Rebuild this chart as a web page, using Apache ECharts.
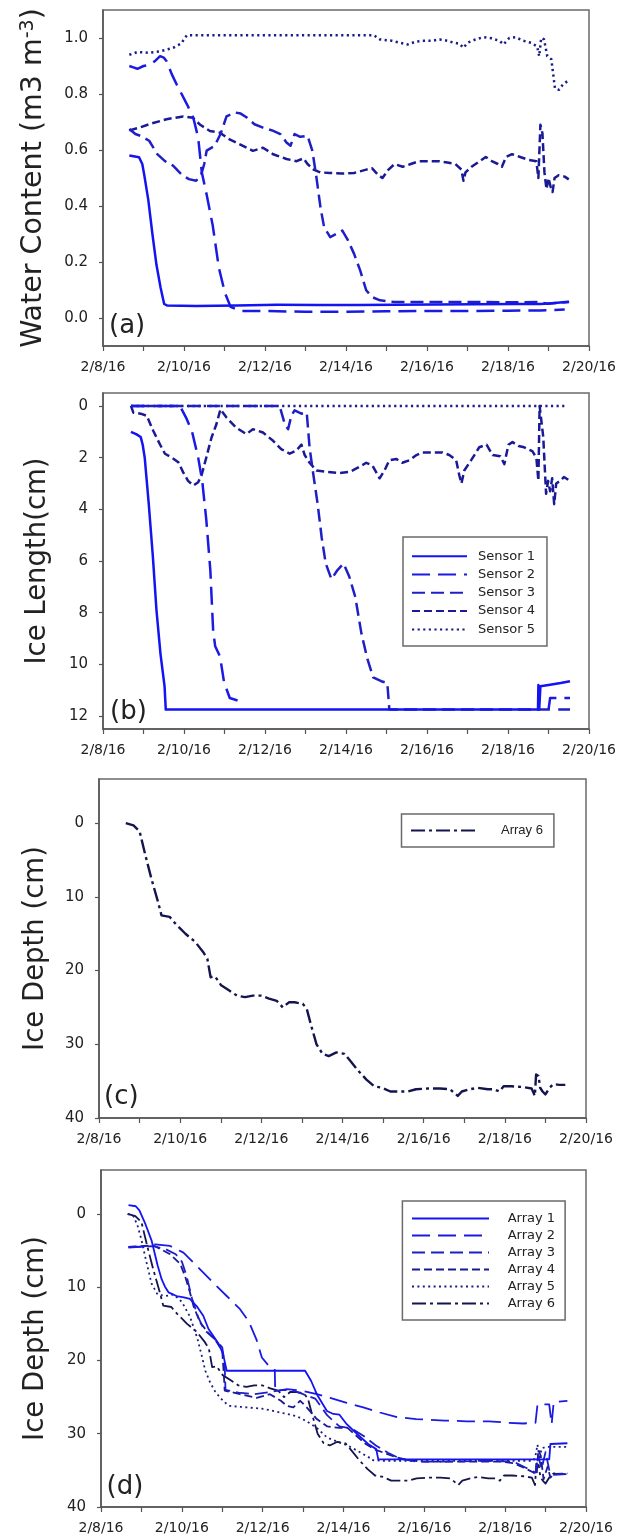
<!DOCTYPE html>
<html>
<head>
<meta charset="utf-8">
<script src="https://cdn.jsdelivr.net/npm/echarts@6/dist/echarts.min.js"></script>
<style>
html,body{margin:0;padding:0;background:#fff;}
#chart{width:619px;height:1536px;}
</style>
</head>
<body>
<div id="chart"></div>
<script>
// ---------- tick labels ----------
const xTickDays = [8, 10, 12, 14, 16, 18, 20];
const xTickLabels = ['2/8/16', '2/10/16', '2/12/16', '2/14/16', '2/16/16', '2/18/16', '2/20/16'];
const wcTicks = [0, 0.2, 0.4, 0.6, 0.8, 1.0];
const ilTicks = [0, 2, 4, 6, 8, 10, 12];
const depthTicks = [0, 10, 20, 30, 40];
const sensorNames = ['Sensor 1', 'Sensor 2', 'Sensor 3', 'Sensor 4', 'Sensor 5'];
const arrayNames = ['Array 1', 'Array 2', 'Array 3', 'Array 4', 'Array 5', 'Array 6'];

// ---------- (a) water content, [day of Feb 2016, m3 m-3] ----------
const wcSensor1 = [[8.65,0.58],[8.89,0.574],[8.97,0.55],[9.02,0.51],[9.12,0.42],[9.22,0.30],[9.32,0.19],[9.42,0.11],[9.51,0.05],[9.58,0.045],[10.3,0.043],[11.3,0.045],[12.3,0.047],[13.3,0.046],[14.3,0.046],[15.2,0.047],[16.2,0.048],[17.2,0.049],[18.2,0.05],[18.8,0.05],[19.0,0.052],[19.5,0.058]];
const wcSensor2 = [[8.65,0.90],[8.75,0.895],[8.85,0.89],[9.0,0.9],[9.16,0.905],[9.3,0.92],[9.41,0.935],[9.5,0.93],[9.57,0.917],[9.7,0.87],[9.82,0.834],[10.07,0.764],[10.23,0.715],[10.35,0.644],[10.44,0.52],[10.56,0.44],[10.71,0.33],[10.86,0.18],[11.01,0.09],[11.15,0.04],[11.4,0.025],[12,0.025],[13,0.022],[14,0.022],[15,0.024],[16,0.025],[17,0.025],[18,0.026],[18.8,0.027],[19.0,0.028],[19.4,0.03]];
const wcSensor3 = [[8.65,0.675],[8.8,0.657],[8.94,0.65],[9.14,0.633],[9.34,0.585],[9.53,0.56],[9.73,0.544],[9.93,0.514],[10.12,0.496],[10.3,0.49],[10.42,0.51],[10.5,0.55],[10.56,0.598],[10.76,0.615],[10.91,0.66],[11.05,0.72],[11.26,0.734],[11.4,0.73],[11.55,0.716],[11.74,0.692],[11.95,0.68],[12.19,0.669],[12.38,0.657],[12.53,0.627],[12.63,0.615],[12.73,0.657],[12.87,0.647],[13.05,0.651],[13.17,0.597],[13.27,0.502],[13.37,0.395],[13.46,0.324],[13.61,0.289],[13.76,0.3],[13.91,0.312],[14.05,0.277],[14.2,0.229],[14.35,0.17],[14.5,0.099],[14.64,0.075],[14.84,0.063],[15.2,0.057],[16.2,0.057],[17.2,0.057],[18.2,0.056],[18.77,0.057],[18.97,0.051],[19.51,0.057]];
const wcSensor4 = [[8.65,0.67],[8.9,0.68],[9.16,0.693],[9.57,0.71],[9.98,0.72],[10.22,0.715],[10.4,0.69],[10.64,0.668],[10.89,0.662],[11.1,0.64],[11.38,0.62],[11.7,0.597],[11.95,0.608],[12.2,0.585],[12.53,0.568],[12.78,0.56],[12.95,0.57],[13.05,0.55],[13.2,0.53],[13.37,0.52],[13.6,0.518],[13.9,0.516],[14.2,0.518],[14.5,0.53],[14.64,0.535],[14.8,0.51],[14.9,0.50],[15.05,0.53],[15.2,0.55],[15.4,0.54],[15.6,0.55],[15.8,0.56],[16.0,0.56],[16.3,0.56],[16.5,0.555],[16.7,0.55],[16.85,0.53],[16.9,0.49],[16.95,0.52],[17.1,0.54],[17.3,0.56],[17.45,0.575],[17.6,0.56],[17.75,0.55],[17.85,0.54],[17.95,0.575],[18.1,0.585],[18.3,0.575],[18.5,0.565],[18.7,0.56],[18.75,0.5],[18.8,0.69],[18.85,0.66],[18.9,0.52],[18.95,0.46],[19.0,0.5],[19.05,0.47],[19.1,0.45],[19.15,0.5],[19.25,0.51],[19.4,0.505],[19.5,0.495]];
const wcSensor5 = [[8.65,0.94],[8.85,0.95],[9.14,0.947],[9.43,0.953],[9.73,0.965],[9.93,0.98],[10.07,1.01],[14.69,1.01],[14.84,0.995],[15.13,0.99],[15.33,0.983],[15.53,0.977],[15.72,0.987],[15.92,0.99],[16.12,0.99],[16.31,0.995],[16.51,0.99],[16.66,0.983],[16.8,0.98],[16.9,0.965],[17.0,0.983],[17.2,0.995],[17.39,1.003],[17.59,0.999],[17.79,0.99],[17.89,0.977],[18.03,1.0],[18.18,1.003],[18.38,0.99],[18.57,0.983],[18.72,0.97],[18.77,0.935],[18.82,1.0],[18.89,0.995],[18.97,0.935],[19.07,0.924],[19.16,0.82],[19.26,0.815],[19.36,0.835],[19.51,0.85]];

// ---------- (b) ice length, [day, cm] ----------
const ilSensor1 = [[8.69,1.0],[8.83,1.1],[8.93,1.2],[8.98,1.5],[9.03,2.0],[9.13,3.8],[9.23,5.8],[9.32,7.9],[9.42,9.6],[9.52,10.85],[9.55,11.75],[18.74,11.75],[18.75,10.8],[18.77,11.75],[18.8,10.85],[19.0,10.8],[19.3,10.72],[19.53,10.65]];
const ilSensor2 = [[8.69,0],[9.9,0],[10.05,0.45],[10.2,1.0],[10.35,2.0],[10.45,2.9],[10.55,4.4],[10.65,6.35],[10.72,8.7],[10.77,9.3],[10.89,9.7],[10.99,10.7],[11.13,11.3],[11.33,11.4],[11.38,11.5],[11.4,'-'],[19.0,11.75],[19.04,11.3],[19.53,11.3]];
const ilSensor3 = [[8.69,0],[12.36,0],[12.49,0.71],[12.57,0.9],[12.65,0.38],[12.73,0.17],[12.9,0.3],[13.03,0.25],[13.1,1.6],[13.17,2.4],[13.3,3.8],[13.4,5.1],[13.5,6.1],[13.64,6.7],[13.79,6.35],[13.94,6.1],[14.08,6.6],[14.23,7.4],[14.38,8.8],[14.53,9.8],[14.67,10.5],[14.87,10.65],[15.02,10.72],[15.07,11.75],[19.04,11.75],[19.1,'-'],[19.24,11.75],[19.53,11.75]];
const ilSensor4 = [[8.69,0],[8.75,0.26],[8.93,0.3],[9.08,0.38],[9.24,0.96],[9.4,1.47],[9.53,1.85],[9.7,2.0],[9.86,2.18],[9.98,2.57],[10.1,2.9],[10.23,3.08],[10.35,2.95],[10.43,2.7],[10.55,2.0],[10.68,1.22],[10.8,0.71],[10.9,0.13],[11.05,0.45],[11.29,0.84],[11.54,1.09],[11.7,0.9],[11.95,1.03],[12.2,1.35],[12.4,1.67],[12.61,1.85],[12.77,1.73],[12.9,1.5],[12.98,1.9],[13.1,2.2],[13.27,2.5],[13.52,2.55],[13.84,2.6],[14.09,2.55],[14.28,2.4],[14.5,2.2],[14.65,2.3],[14.83,2.8],[14.95,2.5],[15.07,2.1],[15.24,2.05],[15.39,2.2],[15.57,2.1],[15.74,1.9],[15.89,1.8],[16.13,1.8],[16.38,1.8],[16.55,1.9],[16.72,2.1],[16.8,2.7],[16.85,3.0],[16.92,2.5],[17.09,2.1],[17.29,1.6],[17.47,1.5],[17.62,1.9],[17.81,1.95],[17.91,2.25],[18.01,1.5],[18.11,1.4],[18.26,1.55],[18.4,1.6],[18.6,1.75],[18.7,2.0],[18.75,2.9],[18.78,0],[18.82,0.05],[18.87,1.2],[18.94,3.4],[18.99,2.9],[19.04,3.3],[19.09,2.8],[19.14,3.8],[19.19,3.0],[19.29,2.9],[19.38,2.75],[19.53,2.9]];
const ilSensor5 = [[8.69,0],[19.4,0]];

// ---------- (c)/(d) ice depth, [day, cm] ----------
const depthArray1 = [[8.68,-1.2],[8.86,-1.05],[8.95,-0.5],[9.1,1.4],[9.25,3.6],[9.4,7.0],[9.5,8.9],[9.58,9.9],[9.67,10.7],[9.87,11.2],[10.05,11.4],[10.2,11.6],[10.37,12.6],[10.53,13.9],[10.66,15.7],[10.78,16.65],[10.9,17.6],[11.02,19.1],[11.11,21.4],[13.05,21.4],[13.2,22.8],[13.34,24.6],[13.59,26.9],[13.75,27.3],[13.9,27.4],[14.08,28.7],[14.33,30.0],[14.61,31.4],[14.81,32.1],[14.86,33.5],[19.09,33.5],[19.12,31.4],[19.54,31.3]];
const depthArray2 = [[8.68,4.6],[9.05,4.45],[9.34,4.14],[9.71,4.37],[10.04,5.28],[10.37,7.1],[10.78,9.4],[11.11,11.2],[11.44,13.0],[11.65,14.6],[11.85,17.2],[11.98,19.6],[12.22,21.2],[12.3,21.3],[12.31,24.2],[12.6,23.9],[12.95,24.1],[13.34,24.6],[13.67,25.1],[14.08,25.8],[14.49,26.4],[14.9,27.1],[15.3,27.7],[15.8,28.0],[16.5,28.2],[17.05,28.3],[17.6,28.3],[18.06,28.5],[18.45,28.6],[18.75,28.5],[18.8,26.0],[19.09,26.0],[19.15,28.7],[19.2,25.7],[19.54,25.5]];
const depthArray3 = [[8.68,4.5],[9.3,4.4],[9.6,4.8],[9.85,5.5],[10.0,6.5],[10.12,8.5],[10.25,11.5],[10.4,14.0],[10.55,15.8],[10.8,17.0],[11.0,18.2],[11.06,20.5],[11.08,24.0],[11.4,24.4],[11.8,24.6],[12.2,24.3],[12.5,24.0],[12.8,24.2],[13.0,24.6],[13.3,25.2],[13.6,27.5],[13.9,29.0],[14.2,29.3],[14.5,30.3],[14.8,31.6],[15.1,32.6],[15.4,33.4],[15.8,33.8],[16.5,33.8],[17.5,33.7],[18.2,33.8],[18.5,34.6],[18.75,35.3],[18.82,33.0],[18.9,34.8],[19.0,32.5],[19.1,35.2],[19.2,35.6],[19.54,35.5]];
const depthArray4 = [[8.68,4.5],[9.3,4.3],[9.71,5.5],[9.96,6.8],[10.08,8.5],[10.2,10.7],[10.29,12.6],[10.45,14.8],[10.65,16.2],[10.82,17.1],[11.0,18.7],[11.04,22],[11.06,24.1],[11.44,24.6],[11.85,25.1],[12.18,24.6],[12.45,25.5],[12.6,26.2],[12.76,26.4],[12.93,25.5],[13.09,26.4],[13.34,28.0],[13.6,29.0],[13.9,29.2],[14.1,29.2],[14.3,30.2],[14.55,31.4],[14.8,32.2],[15.0,32.6],[15.3,33.2],[15.6,33.6],[16.0,33.8],[17.0,33.8],[17.9,33.8],[18.2,34.0],[18.45,34.6],[18.7,35.3],[18.78,35.6],[18.82,32.2],[18.88,33],[18.95,36.2],[19.05,34.5],[19.12,36.0],[19.2,35.5],[19.54,35.4]];
const depthArray5 = [[8.66,0],[8.8,0.3],[8.9,1.5],[9.0,3.5],[9.1,6],[9.25,9.5],[9.4,11.0],[9.6,11.2],[9.8,11.0],[10.0,12],[10.2,14],[10.38,16.9],[10.5,19.5],[10.58,21.4],[10.7,23],[10.82,24.2],[10.95,25.1],[11.12,26.0],[11.19,26.2],[11.6,26.4],[12.02,26.6],[12.43,27.1],[12.84,27.6],[13.09,28.3],[13.34,29.2],[13.59,30.5],[13.9,31.2],[14.1,31.6],[14.4,32.5],[14.65,33.3],[14.7,33.6],[15,33.7],[16,33.7],[17,33.7],[18,33.7],[18.7,33.7],[18.75,33.0],[18.8,31.5],[18.85,33.5],[18.9,32.0],[19.0,31.8],[19.54,31.8]];
const depthArray6 = [[8.66,0],[8.85,0.3],[9.0,1.1],[9.15,4.5],[9.29,7.5],[9.44,10.4],[9.54,12.5],[9.74,12.7],[9.88,13.6],[10.13,15.0],[10.37,16.1],[10.57,17.5],[10.67,18.4],[10.75,20.9],[10.86,20.8],[11.01,22.0],[11.21,22.7],[11.4,23.4],[11.6,23.6],[11.79,23.4],[11.99,23.4],[12.19,23.8],[12.38,24.1],[12.53,25.0],[12.68,24.3],[12.82,24.3],[13.02,24.5],[13.12,25.2],[13.22,27.3],[13.36,30.0],[13.51,31.3],[13.66,31.6],[13.85,31.1],[14.05,31.3],[14.2,32.3],[14.39,33.6],[14.59,34.8],[14.78,35.7],[14.98,35.9],[15.18,36.4],[15.42,36.4],[15.62,36.4],[15.81,36.1],[16.11,36.0],[16.4,36.0],[16.65,36.1],[16.84,37.0],[16.94,36.4],[17.14,36.1],[17.33,35.9],[17.58,36.1],[17.73,36.1],[17.87,36.4],[17.97,35.7],[18.17,35.7],[18.46,35.8],[18.66,36.0],[18.74,37.0],[18.77,34.1],[18.83,34.3],[18.87,35.9],[18.93,36.4],[19.0,36.8],[19.1,35.9],[19.2,35.4],[19.34,35.5],[19.49,35.5]];

// ---------- styles ----------
const FONT = 'DejaVu Sans';
const TXT = '#222';
const AX = '#555';
const sensorStyle = [
  {color:'#1414f2', type:'solid'},
  {color:'#1a1ae4', type:[18,8]},
  {color:'#1f1fc6', type:[13,6]},
  {color:'#1a1a96', type:[8,4]},
  {color:'#1c1c88', type:[2.2,3.4]}
];
const arrayStyle = [
  {color:'#1414f2', type:'solid'},
  {color:'#1a1ae4', type:[18,8]},
  {color:'#1f1fc6', type:[13,6]},
  {color:'#1a1a96', type:[8,4]},
  {color:'#1c1c88', type:[2,3.4]},
  {color:'#14144e', type:[14,4,3,4]}
];

const grids = [
  {left:103, top:10, width:486, height:336},
  {left:103, top:393, width:487, height:336},
  {left:99, top:779, width:487, height:339},
  {left:101, top:1170, width:485, height:337}
].map(g => Object.assign({show:true, borderColor:'#6a6a6a', borderWidth:1.5, backgroundColor:'transparent'}, g));

function xAx(i) {
  return {
    type:'value', gridIndex:i, min:8, max:20, interval:1,
    axisLine:{show:true, onZero:false, lineStyle:{color:AX, width:1.5}},
    axisTick:{show:true, inside:false, length:5, lineStyle:{color:AX, width:1.2}},
    axisLabel:{
      formatter:(v) => { const k = xTickDays.indexOf(Math.round(v*1000)/1000); return k >= 0 ? xTickLabels[k] : ''; },
      fontFamily:FONT, fontSize:14, color:TXT, margin:14, showMinLabel:true, showMaxLabel:true
    },
    splitLine:{show:false}
  };
}
function yAx(i, opts) {
  return Object.assign({
    type:'value', gridIndex:i,
    axisLine:{show:true, onZero:false, lineStyle:{color:AX, width:1.5}},
    axisTick:{show:true, inside:false, length:4, customValues:opts.ticks, lineStyle:{color:AX, width:1.2}},
    axisLabel:{customValues:opts.ticks, formatter:opts.fmt, fontFamily:FONT, fontSize:15, color:TXT, margin:15},
    splitLine:{show:false},
    nameLocation:'middle', nameRotate:90,
    nameTextStyle:{fontFamily:FONT, fontSize:27.5, color:TXT}
  }, opts.extra);
}

const yAxes = [
  yAx(0, {ticks:wcTicks, fmt:v => v.toFixed(1), extra:{min:-0.1, max:1.1, name:'Water Content (m3 m{sup|-3})', nameGap:55,
    nameTextStyle:{fontFamily:FONT, fontSize:28.5, color:TXT, rich:{sup:{fontFamily:FONT, fontSize:19, color:TXT, verticalAlign:'top'}}}}}),
  yAx(1, {ticks:ilTicks, fmt:v => String(v), extra:{min:-0.5, max:12.5, inverse:true, name:'Ice Length(cm)', nameGap:51}}),
  yAx(2, {ticks:depthTicks, fmt:v => String(v), extra:{min:-6, max:40, inverse:true, name:'Ice Depth (cm)', nameGap:49}}),
  yAx(3, {ticks:depthTicks, fmt:v => String(v), extra:{min:-6, max:40, inverse:true, name:'Ice Depth (cm)', nameGap:51}})
];

function line(name, data, gi, st, width) {
  return {
    type:'line', name:name, data:data, xAxisIndex:gi, yAxisIndex:gi,
    symbol:'none', showSymbol:false, smooth:false, connectNulls:false, animation:false,
    lineStyle:{color:st.color, width:width, type:st.type, cap:'butt', join:'round'},
    itemStyle:{color:st.color}
  };
}

const wcData = [wcSensor1, wcSensor2, wcSensor3, wcSensor4, wcSensor5];
const ilData = [ilSensor1, ilSensor2, ilSensor3, ilSensor4, ilSensor5];
const depthData = [depthArray1, depthArray2, depthArray3, depthArray4, depthArray5, depthArray6];

const series = [];
for (let k = 4; k >= 0; k--) series.push(line(sensorNames[k], wcData[k], 0, sensorStyle[k], 2.5));
for (let k = 4; k >= 0; k--) series.push(line(sensorNames[k], ilData[k], 1, sensorStyle[k], 2.5));
series.push(line('Array 6', depthArray6, 2, arrayStyle[5], 2.4));
for (let k = 5; k >= 0; k--) series.push(line(arrayNames[k], depthData[k], 3, arrayStyle[k], 1.8));

const legendBase = {
  orient:'vertical', itemHeight:14, borderColor:'#6a6a6a', borderWidth:1.5, backgroundColor:'#fff',
  selectedMode:false, inactiveColor:'#999',
  itemStyle:{opacity:0, borderWidth:0}
};
const legends = [
  Object.assign({}, legendBase, {data:sensorNames, left:403, top:537, itemWidth:55, itemGap:5.3, padding:[12.7,12,10,8],
    textStyle:{fontFamily:FONT, fontSize:13, color:TXT, padding:[0,0,0,6]}}),
  Object.assign({}, legendBase, {data:['Array 6'], left:401.5, top:814, itemWidth:68, itemGap:5, padding:[10,11,10,8.5],
    textStyle:{fontFamily:'Liberation Sans', fontSize:13, color:TXT, padding:[0,0,0,17]}}),
  Object.assign({}, legendBase, {data:arrayNames, left:402.4, top:1201, itemWidth:77, itemGap:4, padding:[11,10,10,8.6],
    textStyle:{fontFamily:FONT, fontSize:13, color:TXT, padding:[0,0,0,13.7]}})
];

const panelLabels = [
  {t:'(a)', x:109, y:326}, {t:'(b)', x:110, y:712}, {t:'(c)', x:104, y:1097}, {t:'(d)', x:106.6, y:1487}
];

const chart = echarts.init(document.getElementById('chart'), null, {renderer:'canvas', width:619, height:1536});
chart.setOption({
  backgroundColor:'#fff',
  animation:false,
  grid:grids,
  xAxis:[xAx(0), xAx(1), xAx(2), xAx(3)],
  yAxis:yAxes,
  legend:legends,
  series:series,
  graphic:panelLabels.map(p => ({
    type:'text', x:p.x, y:p.y, z:100,
    style:{text:p.t, fontFamily:FONT, fontSize:26, fill:TXT, verticalAlign:'middle', align:'left'}
  }))
});
</script>
</body>
</html>
